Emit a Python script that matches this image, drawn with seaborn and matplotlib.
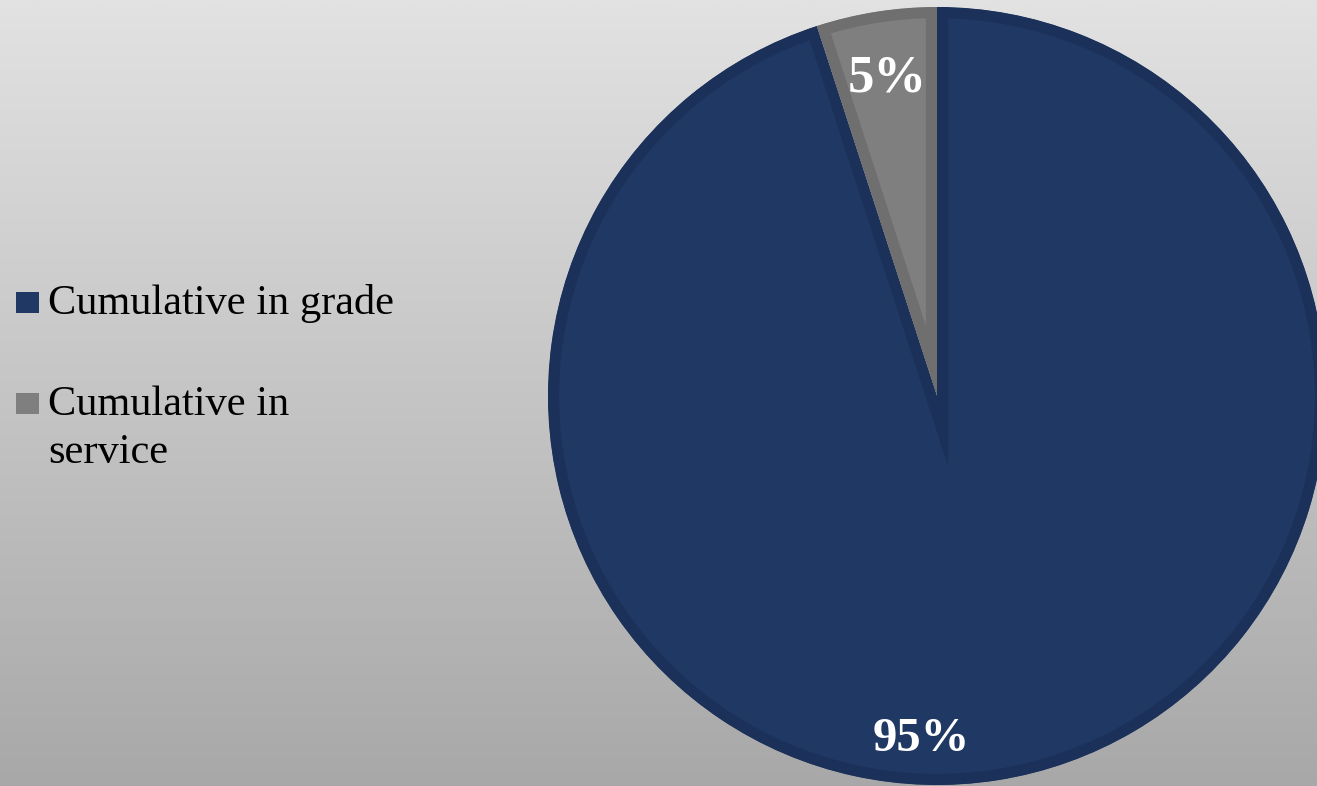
import numpy as np
import matplotlib
matplotlib.use("Agg")
import matplotlib.pyplot as plt
from matplotlib.patches import Rectangle
import seaborn as sns

# Share of cumulative totals
categories = ["Cumulative in grade", "Cumulative in service"]
legend_labels = [["Cumulative in grade"], ["Cumulative in", "service"]]
shares = [95, 5]

sns.set_theme(style="white")
plt.rcParams["font.family"] = ["Liberation Serif", "DejaVu Serif"]

fill_colors = sns.color_palette(["#1f3864", "#7f7f7f"])
edge_colors = sns.color_palette(["#1b3159", "#6f6f6f"])

W, H = 1317, 786
fig = plt.figure(figsize=(W / 100, H / 100), dpi=100)

# vertical grey gradient backdrop on its own axes
bg = fig.add_axes([0, 0, 1, 1], zorder=0)
grad = np.linspace(168, 226, 256)[:, None] / 255.0
bg.imshow(np.dstack([grad, grad, grad]), extent=[0, 1, 0, 1], origin="lower",
          aspect="auto", interpolation="bilinear")
bg.set_xlim(0, 1)
bg.set_ylim(0, 1)
bg.axis("off")

ax = fig.add_axes([0, 0, 1, 1], zorder=1)
ax.patch.set_alpha(0)

cx, cy, r = 937, H - 396, 389
wedges, texts, autotexts = ax.pie(
    shares, colors=fill_colors, startangle=90, counterclock=False,
    center=(cx, cy), radius=r, autopct="%1.0f%%", pctdistance=0.83,
    wedgeprops=dict(linewidth=16),
    textprops=dict(color="white", fontweight="bold"),
)
ax.set_xlim(0, W)
ax.set_ylim(0, H)
ax.set_aspect("equal")
ax.axis("off")

# darker outline kept inside each slice
for w, ec in zip(wedges, edge_colors):
    w.set_edgecolor(ec)
    w.set_clip_path(w.get_path(), w.get_transform())
    w.set_clip_on(True)

for t in autotexts:
    t.set_zorder(5)
    t.set_va("center")
autotexts[1].set_fontsize(38)
autotexts[1].set_position((cx - 50, cy + 317))
# the large slice label sits low, near the bottom rim
autotexts[0].set_fontsize(35)
autotexts[0].set_position((cx - 16, cy - 343))

# legend drawn as swatches with wrapped labels
lx, sw, sh = 16, 23, 21
rows_top = [H - 292, H - 393]
for color, lines, top in zip(fill_colors, legend_labels, rows_top):
    ax.add_patch(Rectangle((lx, top - sh), sw, sh, facecolor=color,
                           edgecolor="none", zorder=3))
    base = top - sh - 1
    for i, line in enumerate(lines):
        ax.text(lx + 32, base - i * 48, line, fontsize=30.5, color="black",
                va="baseline", ha="left", zorder=3)

fig.savefig("out.png", dpi=100)
